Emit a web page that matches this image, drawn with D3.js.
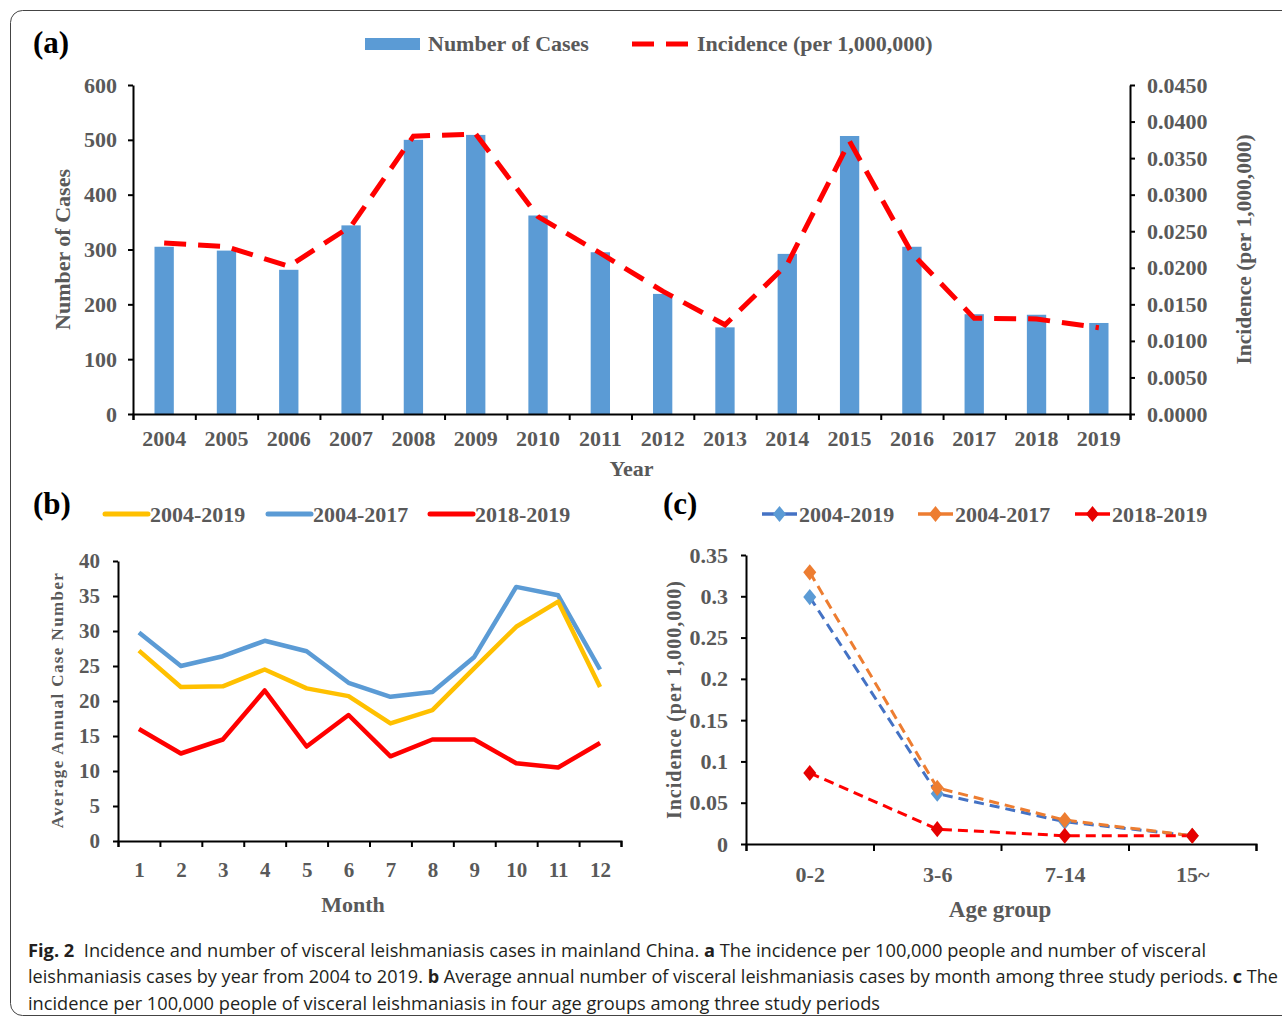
<!DOCTYPE html>
<html>
<head>
<meta charset="utf-8">
<script src="https://cdn.jsdelivr.net/npm/d3@7"></script>
<style>
  html, body { margin: 0; padding: 0; background: #fff; }
  svg { display: block; }
  .serif { font-family: "Liberation Serif", "Times New Roman", serif; font-weight: bold; fill: #595959; }
</style>
</head>
<body>
<svg id="chart" width="1282" height="1023"></svg>
<script>
// ---------------- DATA ----------------
const years = ["2004","2005","2006","2007","2008","2009","2010","2011","2012","2013","2014","2015","2016","2017","2018","2019"];
const cases = [305, 298, 263, 344, 500, 509, 362, 295, 219, 158, 292, 507, 305, 182, 181, 166];
const incidence = [0.0234, 0.0229, 0.0202, 0.0257, 0.0380, 0.0383, 0.0270, 0.0220, 0.0168, 0.0122, 0.0205, 0.0373, 0.0220, 0.0131, 0.0130, 0.0118];
const casesTicks = [0, 100, 200, 300, 400, 500, 600];
const incidenceTicks = [0, 0.005, 0.010, 0.015, 0.020, 0.025, 0.030, 0.035, 0.040, 0.045];

const months = ["1","2","3","4","5","6","7","8","9","10","11","12"];
const monthly2004_2019 = [27.2, 22.0, 22.1, 24.5, 21.8, 20.7, 16.8, 18.7, 24.7, 30.6, 34.2, 22.0];
const monthly2004_2017 = [29.8, 25.0, 26.4, 28.6, 27.1, 22.6, 20.6, 21.3, 26.3, 36.3, 35.1, 24.5];
const monthly2018_2019 = [16.0, 12.5, 14.5, 21.5, 13.5, 18.0, 12.1, 14.5, 14.5, 11.1, 10.5, 14.0];
const monthTicks = [0, 5, 10, 15, 20, 25, 30, 35, 40];

const ageGroups = ["0-2", "3-6", "7-14", "15~"];
const age2004_2019 = [0.299, 0.061, 0.027, 0.010];
const age2004_2017 = [0.329, 0.068, 0.029, 0.010];
const age2018_2019 = [0.086, 0.018, 0.010, 0.010];
const ageTicks = [0, 0.05, 0.1, 0.15, 0.2, 0.25, 0.3, 0.35];

const periodLabels = ["2004-2019", "2004-2017", "2018-2019"];

const captionLines = [
  [["Fig. 2", true], ["  Incidence and number of visceral leishmaniasis cases in mainland China. ", false], ["a", true], [" The incidence per 100,000 people and number of visceral", false]],
  [["leishmaniasis cases by year from 2004 to 2019. ", false], ["b", true], [" Average annual number of visceral leishmaniasis cases by month among three study periods. ", false], ["c", true], [" The", false]],
  [["incidence per 100,000 people of visceral leishmaniasis in four age groups among three study periods", false]]
];

// ---------------- SETUP ----------------
const svg = d3.select("#chart");
const GRAY = "#595959";

svg.append("rect").attr("x", 10.5).attr("y", 10.5).attr("width", 1300).attr("height", 1005)
  .attr("rx", 12).attr("fill", "none").attr("stroke", "#444").attr("stroke-width", 1);

function styleAxis(g) {
  g.select(".domain").attr("stroke", "#000").attr("stroke-width", 2);
  g.selectAll(".tick line").attr("stroke", "#000").attr("stroke-width", 2);
  g.selectAll(".tick text").attr("class", "serif").attr("fill", GRAY);
}

// boundary ticks for categorical x axes
function boundaryAxis(parent, x0, x1, n, y, len) {
  const lin = d3.scaleLinear().domain([0, n]).range([x0, x1]);
  const g = parent.append("g").attr("transform", `translate(0,${y})`)
    .call(d3.axisBottom(lin).ticks(n).tickSize(len).tickSizeOuter(len).tickFormat(""));
  styleAxis(g);
  return g;
}

// ================= PANEL A =================
{
  const L = 133, R = 1130, T = 85, B = 414;
  const x = d3.scaleBand().domain(years).range([L, R]).paddingInner(0.69).paddingOuter(0.345);
  const y = d3.scaleLinear().domain([0, 600]).range([B, T]);
  const y2 = d3.scaleLinear().domain([0, 0.045]).range([B, T]);
  const g = svg.append("g");

  g.selectAll("rect.bar").data(years).join("rect").attr("class", "bar")
    .attr("x", d => x(d)).attr("width", x.bandwidth())
    .attr("y", (d, i) => y(cases[i])).attr("height", (d, i) => B - y(cases[i]))
    .attr("fill", "#5B9BD5");

  // left axis
  const ga = g.append("g").attr("transform", `translate(${L},0)`)
    .call(d3.axisLeft(y).tickValues(casesTicks).tickSize(5).tickPadding(11).tickSizeOuter(0));
  styleAxis(ga);
  ga.selectAll(".tick text").style("font-size", "22px");

  // right axis
  const gr = g.append("g").attr("transform", `translate(${R},0)`)
    .call(d3.axisRight(y2).tickValues(incidenceTicks).tickSize(5).tickPadding(12).tickSizeOuter(0).tickFormat(d3.format(".4f")));
  styleAxis(gr);
  gr.selectAll(".tick text").style("font-size", "22px");

  // x axis
  boundaryAxis(g, L, R, years.length, B, 6);
  const gx = g.append("g").attr("transform", `translate(0,${B})`)
    .call(d3.axisBottom(x).tickSize(0).tickPadding(16));
  gx.select(".domain").remove();
  gx.selectAll(".tick text").attr("class", "serif").attr("fill", GRAY).style("font-size", "22px");

  // incidence line
  const line = d3.line().x((d, i) => x(years[i]) + x.bandwidth() / 2).y(d => y2(d));
  g.append("path").datum(incidence).attr("d", line)
    .attr("fill", "none").attr("stroke", "#FF0000").attr("stroke-width", 5)
    .attr("stroke-dasharray", "22,12");

  // titles
  g.append("text").attr("class", "serif").attr("transform", `translate(70,${(T + B) / 2}) rotate(-90)`)
    .attr("text-anchor", "middle").style("font-size", "22px").text("Number of Cases");
  g.append("text").attr("class", "serif").attr("transform", `translate(1251,${(T + B) / 2}) rotate(-90)`)
    .attr("text-anchor", "middle").style("font-size", "21.5px").text("Incidence (per 1,000,000)");
  g.append("text").attr("class", "serif").attr("x", (L + R) / 2).attr("y", 476)
    .attr("text-anchor", "middle").style("font-size", "22px").text("Year");

  // legend
  g.append("rect").attr("x", 365).attr("y", 38).attr("width", 55).attr("height", 12).attr("fill", "#5B9BD5");
  g.append("text").attr("class", "serif").attr("x", 428).attr("y", 51).style("font-size", "22px").text("Number of Cases");
  g.append("line").attr("x1", 632).attr("x2", 690).attr("y1", 44).attr("y2", 44)
    .attr("stroke", "#FF0000").attr("stroke-width", 5).attr("stroke-dasharray", "22,12").attr("stroke-dashoffset", 0);
  g.append("text").attr("class", "serif").attr("x", 697).attr("y", 51).style("font-size", "22px").text("Incidence (per 1,000,000)");

  g.append("text").attr("x", 33).attr("y", 53).style("font-family", "Liberation Serif, serif")
    .style("font-weight", "bold").style("font-size", "31px").attr("fill", "#000").text("(a)");
}

// ================= PANEL B =================
{
  const L = 118, R = 621, T = 561, B = 841;
  const x = d3.scalePoint().domain(months).range([L, R]).padding(0.5);
  const y = d3.scaleLinear().domain([0, 40]).range([B, T]);
  const g = svg.append("g");

  const ga = g.append("g").attr("transform", `translate(${L},0)`)
    .call(d3.axisLeft(y).tickValues(monthTicks).tickSize(5).tickPadding(13).tickSizeOuter(0));
  styleAxis(ga);
  ga.selectAll(".tick text").style("font-size", "21px");

  boundaryAxis(g, L, R, months.length, B, 6);
  const gx = g.append("g").attr("transform", `translate(0,${B})`)
    .call(d3.axisBottom(x).tickSize(0).tickPadding(21));
  gx.select(".domain").remove();
  gx.selectAll(".tick text").attr("class", "serif").attr("fill", GRAY).style("font-size", "21px");

  const series = [
    { vals: monthly2004_2019, color: "#FFC000" },
    { vals: monthly2004_2017, color: "#5B9BD5" },
    { vals: monthly2018_2019, color: "#FF0000" }
  ];
  const line = d3.line().x((d, i) => x(months[i])).y(d => y(d));
  [series[1], series[0], series[2]].forEach(s => {
    g.append("path").datum(s.vals).attr("d", line).attr("fill", "none")
      .attr("stroke", s.color).attr("stroke-width", 4.5).attr("stroke-linejoin", "round");
  });

  g.append("text").attr("class", "serif").attr("transform", `translate(63,${(T + B) / 2 - 1}) rotate(-90)`)
    .attr("text-anchor", "middle").style("font-size", "17px").style("letter-spacing", "1.4px").text("Average Annual Case Number");
  g.append("text").attr("class", "serif").attr("x", 353).attr("y", 912)
    .attr("text-anchor", "middle").style("font-size", "22px").text("Month");

  // legend
  const lx = [105, 268, 430];
  series.forEach((s, i) => {
    g.append("line").attr("x1", lx[i]).attr("x2", lx[i] + 43).attr("y1", 514).attr("y2", 514)
      .attr("stroke", s.color).attr("stroke-width", 5).attr("stroke-linecap", "round");
    g.append("text").attr("class", "serif").attr("x", lx[i] + 45).attr("y", 522)
      .style("font-size", "22px").text(periodLabels[i]);
  });

  g.append("text").attr("x", 33).attr("y", 514).style("font-family", "Liberation Serif, serif")
    .style("font-weight", "bold").style("font-size", "31px").attr("fill", "#000").text("(b)");
}

// ================= PANEL C =================
{
  const L = 746, R = 1256, T = 555, B = 844;
  const x = d3.scalePoint().domain(ageGroups).range([L, R]).padding(0.5);
  const y = d3.scaleLinear().domain([0, 0.35]).range([B, T]);
  const g = svg.append("g");

  const ga = g.append("g").attr("transform", `translate(${L},0)`)
    .call(d3.axisLeft(y).tickValues(ageTicks).tickSize(5).tickPadding(13).tickSizeOuter(0).tickFormat(d => d === 0 ? "0" : String(+d.toFixed(2))));
  styleAxis(ga);
  ga.selectAll(".tick text").style("font-size", "22px");

  boundaryAxis(g, L, R, ageGroups.length, B, 7);
  const gx = g.append("g").attr("transform", `translate(0,${B})`)
    .call(d3.axisBottom(x).tickSize(0).tickPadding(22));
  gx.select(".domain").remove();
  gx.selectAll(".tick text").attr("class", "serif").attr("fill", GRAY).style("font-size", "22px");

  const series = [
    { vals: age2004_2019, line: "#4472C4", mark: "#5B9BD5" },
    { vals: age2004_2017, line: "#ED7D31", mark: "#ED7D31" },
    { vals: age2018_2019, line: "#FF0000", mark: "#E60000" }
  ];
  const line = d3.line().x((d, i) => x(ageGroups[i])).y(d => y(d));
  const diamond = d3.symbol().type(d3.symbolDiamond).size(75);
  series.forEach(s => {
    g.append("path").datum(s.vals).attr("d", line).attr("fill", "none")
      .attr("stroke", s.line).attr("stroke-width", 3).attr("stroke-dasharray", "10,6");
  });
  series.forEach(s => {
    g.selectAll(null).data(s.vals).join("path").attr("d", diamond)
      .attr("transform", (d, i) => `translate(${x(ageGroups[i])},${y(d)}) scale(1.4,1)`)
      .attr("fill", s.mark);
  });

  g.append("text").attr("class", "serif").attr("transform", `translate(681,${(T + B) / 2}) rotate(-90)`)
    .attr("text-anchor", "middle").style("font-size", "20px").style("letter-spacing", "1px").text("Incidence (per 1,000,000)");
  g.append("text").attr("class", "serif").attr("x", 1000).attr("y", 917)
    .attr("text-anchor", "middle").style("font-size", "23px").text("Age group");

  // legend
  const lx = [762, 918, 1075];
  series.forEach((s, i) => {
    g.append("line").attr("x1", lx[i]).attr("x2", lx[i] + 35).attr("y1", 514).attr("y2", 514)
      .attr("stroke", s.line).attr("stroke-width", 3.5);
    g.append("path").attr("d", diamond)
      .attr("transform", `translate(${lx[i] + 17.5},514) scale(1.4,1)`).attr("fill", s.mark);
    g.append("text").attr("class", "serif").attr("x", lx[i] + 37).attr("y", 522)
      .style("font-size", "22px").text(periodLabels[i]);
  });

  g.append("text").attr("x", 663).attr("y", 514).style("font-family", "Liberation Serif, serif")
    .style("font-weight", "bold").style("font-size", "31px").attr("fill", "#000").text("(c)");
}

// ================= CAPTION =================
{
  const baseY = [957, 983, 1010];
  const widths = [1178, 1250, 852];
  captionLines.forEach((parts, li) => {
    const t = svg.append("text").attr("x", 28).attr("y", baseY[li])
      .style("font-family", "Open Sans, Noto Sans, sans-serif").style("font-size", "18px")
      .attr("fill", "#231F20").attr("textLength", widths[li]).attr("lengthAdjust", "spacingAndGlyphs");
    parts.forEach(([str, bold]) => {
      t.append("tspan").style("font-weight", bold ? "bold" : "normal").attr("xml:space", "preserve").text(str);
    });
  });
}
</script>
</body>
</html>
